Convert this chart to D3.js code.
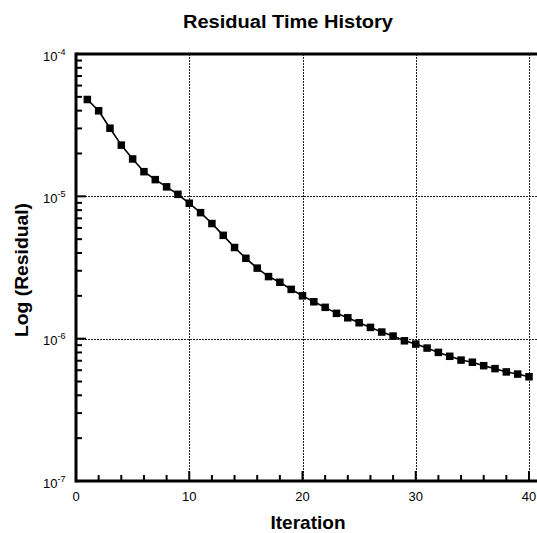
<!DOCTYPE html>
<html>
<head>
<meta charset="utf-8">
<script src="https://cdn.jsdelivr.net/npm/d3@7"></script>
<style>
  html, body { margin: 0; padding: 0; background: #fff; }
  svg { display: block; font-family: "Liberation Sans", Arial, Helvetica, sans-serif; }
</style>
</head>
<body>
<svg id="chart" width="537" height="533"></svg>
<script>
// Residual per iteration of the solver
const iterations = d3.range(1, 41);
const residuals = [
  4.79e-5, 3.99e-5, 3.01e-5, 2.29e-5, 1.83e-5, 1.49e-5, 1.31e-5, 1.166e-5, 1.033e-5, 8.94e-6,
  7.68e-6, 6.44e-6, 5.32e-6, 4.37e-6, 3.67e-6, 3.13e-6, 2.73e-6, 2.49e-6, 2.22e-6, 2.00e-6,
  1.816e-6, 1.66e-6, 1.506e-6, 1.402e-6, 1.293e-6, 1.200e-6, 1.113e-6, 1.043e-6, 9.66e-7, 9.16e-7,
  8.59e-7, 8.01e-7, 7.52e-7, 7.07e-7, 6.83e-7, 6.46e-7, 6.16e-7, 5.84e-7, 5.64e-7, 5.40e-7
];
const xMajorTicks = [0, 10, 20, 30, 40];
const xMinorTicks = [2, 4, 6, 8, 12, 14, 16, 18, 22, 24, 26, 28, 32, 34, 36, 38];
const yMajorTicks = [1e-7, 1e-6, 1e-5, 1e-4];
const yExponents = ["-7", "-6", "-5", "-4"];
const titleText = "Residual Time History";
const xLabel = "Iteration";
const yLabel = "Log (Residual)";

const W = 537, H = 533;
const plotLeft = 76, plotRight = 529, plotTop = 54, plotBottom = 481;

const svg = d3.select("#chart");
const x = d3.scaleLinear().domain([0, 40]).range([plotLeft, plotRight]);
const y = d3.scaleLog().domain([1e-7, 1e-4]).range([plotBottom, plotTop]);

// minor log ticks: 2..9 in every decade
const yMinorTicks = [];
for (let e = -7; e < -4; e++) {
  for (let m = 2; m <= 9; m++) yMinorTicks.push(m * Math.pow(10, e));
}

// dotted grid
const grid = svg.append("g").attr("stroke", "#222").attr("stroke-width", 1)
  .attr("stroke-dasharray", "2,1").attr("shape-rendering", "crispEdges");
grid.selectAll("line.gx").data([10, 20, 30, 40]).join("line")
  .attr("x1", d => Math.round(x(d)) + 0.5).attr("x2", d => Math.round(x(d)) + 0.5)
  .attr("y1", plotTop).attr("y2", plotBottom);
grid.selectAll("line.gy").data([1e-5, 1e-6]).join("line")
  .attr("x1", plotLeft).attr("x2", W)
  .attr("y1", d => Math.round(y(d)) + 0.5).attr("y2", d => Math.round(y(d)) + 0.5);

// inward tick marks
const ticks = svg.append("g").attr("stroke", "#000").attr("stroke-width", 2);
ticks.selectAll("line.xmaj").data(xMajorTicks).join("line")
  .attr("x1", d => x(d)).attr("x2", d => x(d))
  .attr("y1", plotBottom).attr("y2", plotBottom - 10);
ticks.selectAll("line.xmin").data(xMinorTicks).join("line")
  .attr("x1", d => x(d)).attr("x2", d => x(d))
  .attr("y1", plotBottom).attr("y2", plotBottom - 6);
ticks.selectAll("line.ymaj").data(yMajorTicks).join("line")
  .attr("x1", plotLeft).attr("x2", plotLeft + 10)
  .attr("y1", d => y(d)).attr("y2", d => y(d));
ticks.selectAll("line.ymin").data(yMinorTicks).join("line")
  .attr("x1", plotLeft).attr("x2", plotLeft + 6)
  .attr("y1", d => y(d)).attr("y2", d => y(d));

// tick labels
svg.append("g").attr("font-size", 13).attr("fill", "#000").attr("text-anchor", "middle")
  .selectAll("text").data(xMajorTicks).join("text")
  .attr("x", d => x(d)).attr("y", plotBottom + 20).text(d => d3.format("d")(d));

const yLabels = svg.append("g").attr("font-size", 13).attr("fill", "#000");
yMajorTicks.forEach((t, i) => {
  const txt = yLabels.append("text")
    .attr("x", 43).attr("y", y(t) + 6.5).attr("text-anchor", "start");
  txt.append("tspan").text("10");
  txt.append("tspan").attr("font-size", 9).attr("dy", -6).text(yExponents[i]);
});

// frame: left, bottom and top borders
const frame = svg.append("g").attr("stroke", "#000").attr("stroke-width", 3).attr("fill", "none");
frame.append("line").attr("x1", plotLeft).attr("x2", plotLeft).attr("y1", plotTop - 1.5).attr("y2", plotBottom + 1.5);
frame.append("line").attr("x1", plotLeft).attr("x2", W).attr("y1", plotBottom).attr("y2", plotBottom);
frame.append("line").attr("x1", plotLeft).attr("x2", W).attr("y1", plotTop).attr("y2", plotTop);

// residual history line and square markers
const pts = iterations.map((it, i) => [it, residuals[i]]);
svg.append("path").datum(pts)
  .attr("fill", "none").attr("stroke", "#000").attr("stroke-width", 1.6)
  .attr("d", d3.line().x(d => x(d[0])).y(d => y(d[1])));
const ms = 7.5;
svg.append("g").selectAll("rect").data(pts).join("rect")
  .attr("x", d => x(d[0]) - ms / 2).attr("y", d => y(d[1]) - ms / 2)
  .attr("width", ms).attr("height", ms).attr("fill", "#000");

// titles
svg.append("text").attr("x", 288).attr("y", 28).attr("text-anchor", "middle")
  .attr("font-size", 18).attr("font-weight", "bold")
  .attr("textLength", 210).attr("lengthAdjust", "spacingAndGlyphs").text(titleText);
svg.append("text").attr("x", 308).attr("y", 529).attr("text-anchor", "middle")
  .attr("font-size", 19).attr("font-weight", "bold")
  .attr("textLength", 75).attr("lengthAdjust", "spacingAndGlyphs").text(xLabel);
svg.append("text").attr("transform", "translate(28,270) rotate(-90)").attr("text-anchor", "middle")
  .attr("font-size", 19).attr("font-weight", "bold")
  .attr("textLength", 134).attr("lengthAdjust", "spacingAndGlyphs").text(yLabel);
</script>
</body>
</html>
